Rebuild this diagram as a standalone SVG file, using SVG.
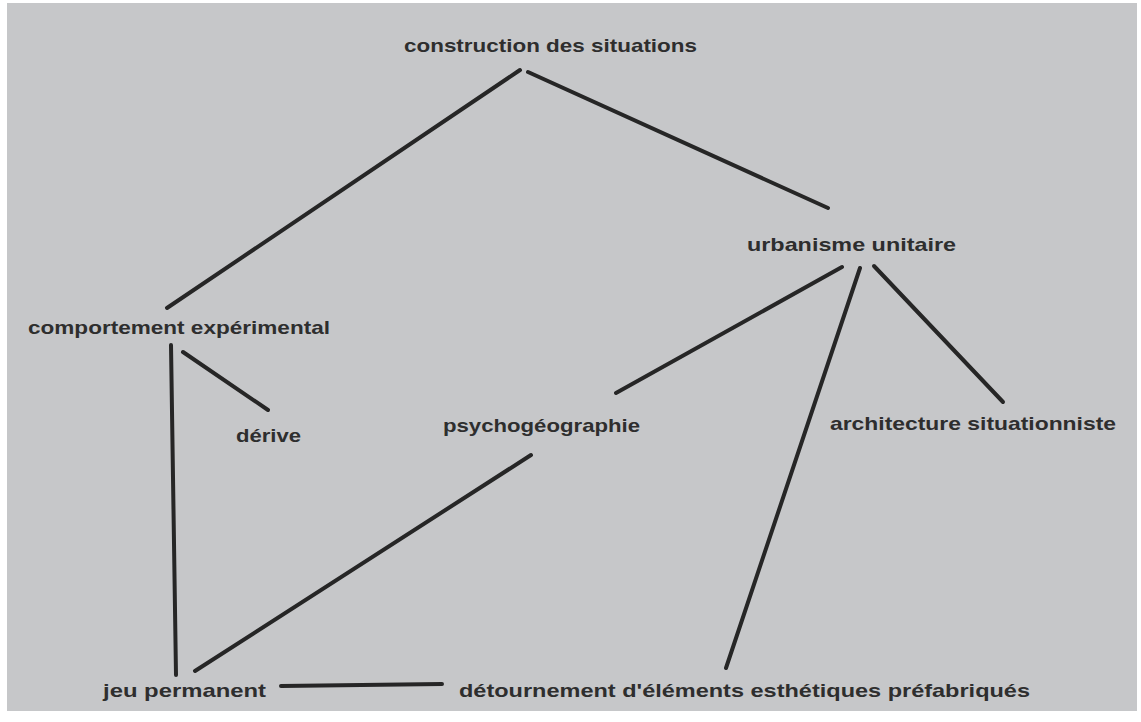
<svg xmlns="http://www.w3.org/2000/svg" width="1141" height="722" viewBox="0 0 1141 722">
<style>
.t{font-family:"Liberation Sans","DejaVu Sans",sans-serif;font-size:19px;fill:#2e2e2e;font-weight:bold;}
.c line{stroke:#262626;stroke-width:4;stroke-linecap:round;}
</style>
<rect x="0" y="0" width="1141" height="722" fill="#ffffff"/>
<rect x="7" y="3" width="1130" height="708" fill="#c6c7c9"/>
<g class="c" id="connectors">
<line x1="520" y1="70" x2="167" y2="308"/>
<line x1="528" y1="72" x2="828" y2="208"/>
<line x1="842" y1="267" x2="616" y2="393"/>
<line x1="860" y1="268" x2="726" y2="668"/>
<line x1="874" y1="266" x2="1003" y2="402"/>
<line x1="171" y1="345" x2="176" y2="675"/>
<line x1="183" y1="352" x2="268" y2="410"/>
<line x1="531" y1="455" x2="195" y2="671"/>
<line x1="281" y1="686" x2="442" y2="684"/>
</g>
<g id="n1"><text class="t" x="404" y="52" textLength="293" lengthAdjust="spacingAndGlyphs">construction des situations</text></g>
<g id="n2"><text class="t" x="28" y="334" textLength="302" lengthAdjust="spacingAndGlyphs">comportement expérimental</text></g>
<g id="n3"><text class="t" x="236" y="442" textLength="65" lengthAdjust="spacingAndGlyphs">dérive</text></g>
<g id="n4"><text class="t" x="443" y="432" textLength="197" lengthAdjust="spacingAndGlyphs">psychogéographie</text></g>
<g id="n5"><text class="t" x="747" y="251" textLength="209" lengthAdjust="spacingAndGlyphs">urbanisme unitaire</text></g>
<g id="n6"><text class="t" x="830" y="430" textLength="286" lengthAdjust="spacingAndGlyphs">architecture situationniste</text></g>
<g id="n7"><text class="t" x="103" y="697" textLength="163" lengthAdjust="spacingAndGlyphs">jeu permanent</text></g>
<g id="n8"><text class="t" x="459" y="697" textLength="571" lengthAdjust="spacingAndGlyphs">détournement d'éléments esthétiques préfabriqués</text></g>
</svg>
